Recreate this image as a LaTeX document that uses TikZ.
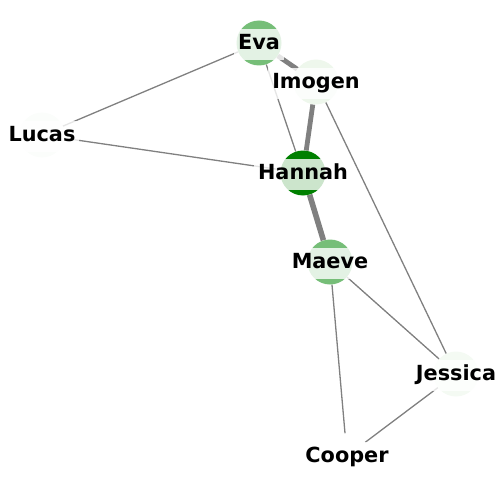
\documentclass[tikz,border=0pt]{standalone}
\usepackage{fontspec}
\newfontfamily\lblfont{DejaVu Sans}
\definecolor{gmid}{RGB}{118,190,120}
\definecolor{gdark}{RGB}{0,128,0}
\definecolor{gimo}{RGB}{238,247,236}
\definecolor{gjes}{RGB}{244,250,243}
\definecolor{gluc}{RGB}{251,253,251}
\definecolor{edgegray}{RGB}{128,128,128}
\tikzset{
  vtx/.style={circle, minimum size=45pt, inner sep=0pt, draw=none},
  lbl/.style={fill=white, fill opacity=0.8, text opacity=1, inner xsep=4pt, inner ysep=5.5pt,
              text height=15.5pt, text depth=4.5pt, yshift=-1.2pt,
              font=\lblfont\bfseries\fontsize{20.8}{24}\selectfont},
  thin edge/.style={draw=edgegray, line width=1.3pt},
  thick edge/.style={draw=edgegray, line width=4.8pt},
  thicker edge/.style={draw=edgegray, line width=5.6pt}
}
\begin{document}
\begin{tikzpicture}[x=1pt,y=-1pt]
\useasboundingbox (0,0) rectangle (500,500);
% nodes (positions)
\node[vtx] (eva) at (259,43) {};
\node[vtx] (imogen) at (316,82) {};
\node[vtx] (lucas) at (42,135) {};
\node[vtx] (hannah) at (303,173) {};
\node[vtx] (maeve) at (330,262) {};
\node[vtx] (jessica) at (456,374) {};
\node[vtx] (cooper) at (347,456) {};
% edges
\draw[thin edge] (eva) -- (lucas);
\draw[thin edge] (eva) -- (hannah);
\draw[thick edge] (eva) -- (imogen);
\draw[thin edge] (lucas) -- (hannah);
\draw[thick edge] (imogen) -- (hannah);
\draw[thin edge] (imogen) -- (jessica);
\draw[thicker edge] (hannah) -- (maeve);
\draw[thin edge] (maeve) -- (jessica);
\draw[thin edge] (maeve) -- (cooper);
\draw[thin edge] (jessica) -- (cooper);
% node discs
\fill[gmid] (eva) circle[radius=22.5];
\fill[gimo] (imogen) circle[radius=22.5];
\fill[gluc] (lucas) circle[radius=22.5];
\fill[gdark] (hannah) circle[radius=22.5];
\fill[gmid] (maeve) circle[radius=22.5];
\fill[gjes] (jessica) circle[radius=22.5];
\fill[white] (cooper) circle[radius=22.5];
% labels
\node[lbl] (leva) at (eva) {Eva};
\node[lbl] (limogen) at (imogen) {Imogen};
\node[lbl] (llucas) at (lucas) {Lucas};
\node[lbl] (lhannah) at (hannah) {Hannah};
\node[lbl] (lmaeve) at (maeve) {Maeve};
\node[lbl] (ljessica) at (jessica) {Jessica};
\node[lbl] (lcooper) at (cooper) {Cooper};
\end{tikzpicture}
\end{document}
